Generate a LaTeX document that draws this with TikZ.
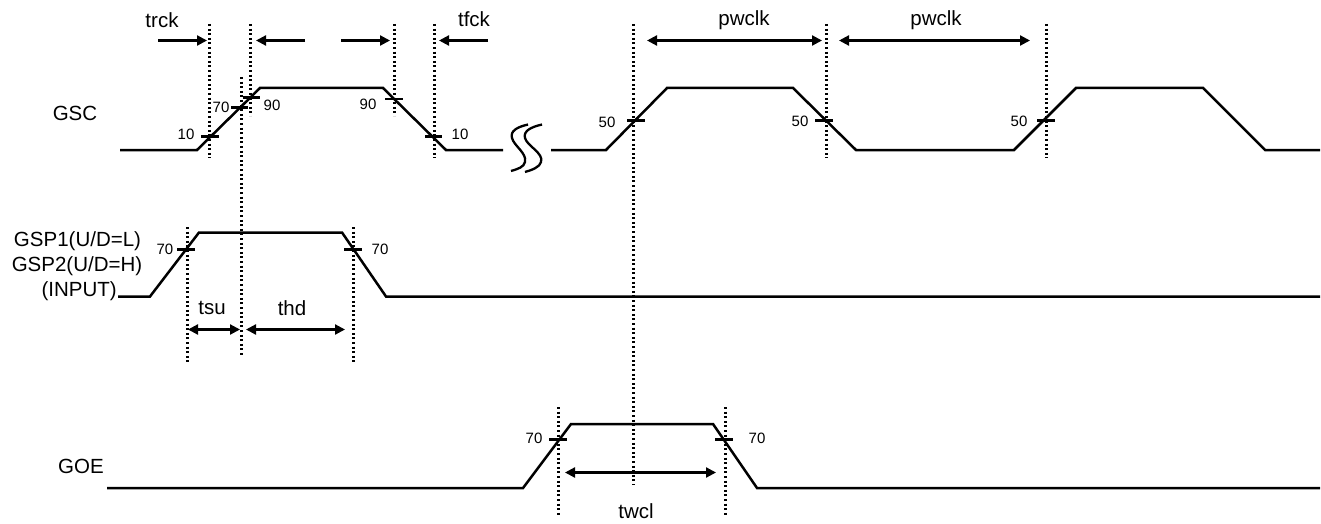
\documentclass[tikz,border=0pt]{standalone}
\usepackage{fontspec}
\setmainfont{Liberation Sans}
\usetikzlibrary{arrows.meta}
\tikzset{
  wave/.style={line width=2.5pt,line join=miter,black},
  tickmark/.style={line width=2.1pt,black},
  guide/.style={line width=2.1pt,dash pattern=on 2pt off 2.6pt,black},
  dim/.style={line width=2.2pt,black,{Triangle[length=10pt,width=10pt]}-{Triangle[length=10pt,width=10pt]}},
  dimr/.style={line width=2.2pt,black,-{Triangle[length=10pt,width=10pt]}},
  big/.style={font=\fontsize{20.5}{22}\selectfont,inner sep=0pt},
  small/.style={font=\fontsize{15}{16}\selectfont,inner sep=0pt},
  brk/.style={line width=2.3pt,black}
}
\begin{document}
\begin{tikzpicture}[x=1pt,y=-1pt]
\useasboundingbox (0,0) rectangle (1321,524);
% guides
\draw[guide] (209.5,24)--(209.5,158);
\draw[guide] (250.5,24)--(250.5,116);
\draw[guide] (241.5,77)--(241.5,356);
\draw[guide] (394.5,24)--(394.5,116);
\draw[guide] (434.5,24)--(434.5,158);
\draw[guide] (633.5,24)--(633.5,485);
\draw[guide] (826.5,24)--(826.5,158);
\draw[guide] (1046.5,24)--(1046.5,158);
\draw[guide] (187.5,227)--(187.5,362);
\draw[guide] (353.5,227)--(353.5,362);
\draw[guide] (558.5,407)--(558.5,516);
\draw[guide] (725.5,407)--(725.5,516);
% waves
\draw[wave] (120,150)--(197,150)--(260,88)--(383,88)--(446,150)--(503,150);
\draw[wave] (551,150)--(606,150)--(667,88)--(793,88)--(856,150)--(1014,150)--(1076,88)--(1203,88)--(1265,150)--(1320,150);
\draw[wave] (118,296.5)--(150,296.5)--(199,232.5)--(342,232.5)--(386,296.5)--(1320,296.5);
\draw[wave] (107,488)--(523,488)--(571,424)--(713,424)--(757,488)--(1320,488);
% break mark
\draw[brk] (528,124.5) .. controls (517,127) and (510,131) .. (512,138) .. controls (514,146) and (527,153) .. (525,162) .. controls (524,167) and (518,169) .. (511,171);
\draw[brk] (542,124.5) .. controls (531,127) and (523,131) .. (525,138) .. controls (527,146) and (544,153) .. (541,162) .. controls (540,167) and (532,170) .. (525,172);
% ticks
\foreach \a/\b/\y in {201/219/136.5,231/248/107.5,243/260/97.5,385/403/99,425/442/136.5,
  627/645/120.5,815/833/120.5,1037/1055/120.5,177/195/249.5,344/362/249.5,549/567/439.5,715/733/439.5}
  \draw[tickmark] (\a,\y)--(\b,\y);
% arrows
\draw[dimr] (158,40.5)--(207,40.5);
\draw[dimr] (305,40.5)--(256,40.5);
\draw[dimr] (341,40.5)--(390,40.5);
\draw[dimr] (488,40.5)--(439,40.5);
\draw[dim] (647,40.5)--(822,40.5);
\draw[dim] (839,40.5)--(1030,40.5);
\draw[dim] (188,329.5)--(240,329.5);
\draw[dim] (246,329.5)--(345,329.5);
\draw[dim] (565,472.5)--(716,472.5);
% big labels
\node[big] (l1) at (162,20) {trck};
\node[big] (l2) at (474,19) {tfck};
\node[big] (l3) at (744,20) {pwclk};
\node[big] (l4) at (936,20) {pwclk};
\node[big] (l5) at (75,113) {GSC};
\node[big] (l6) at (77.5,241) {GSP1(U/D=L)};
\node[big] (l7) at (77,266) {GSP2(U/D=H)};
\node[big,anchor=east] (l8) at (117,291) {(INPUT)};
\node[big] (l9) at (212,308) {tsu};
\node[big] (l10) at (292,308) {thd};
\node[big] (l11) at (81,466) {GOE};
\node[big] (l12) at (636,511) {twcl};
% small labels
\node[small] (n1) at (186,134) {10};
\node[small] (n2) at (221,107.5) {70};
\node[small] (n3) at (272,105) {90};
\node[small] (n4) at (368,104) {90};
\node[small] (n5) at (460,134) {10};
\node[small] (n6) at (607,122) {50};
\node[small] (n7) at (800,121) {50};
\node[small] (n8) at (1019,121) {50};
\node[small] (n9) at (165,249) {70};
\node[small] (n10) at (380,249) {70};
\node[small] (n11) at (534,438) {70};
\node[small] (n12) at (757,438) {70};
\end{tikzpicture}
\end{document}
